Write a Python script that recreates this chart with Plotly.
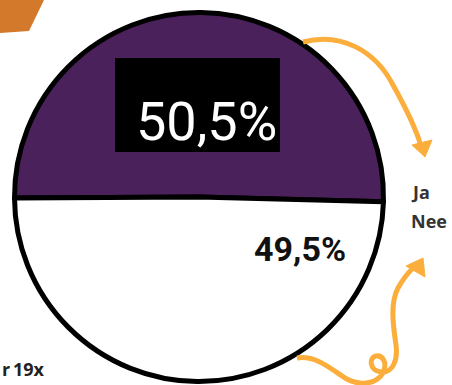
import plotly.graph_objects as go

# Survey answers
labels = ["Ja", "Nee"]
values = [50.5, 49.5]
colors = ["#4A215B", "#FFFFFF"]
note_word = "r"
note_count = "19x"

W, H = 452, 385


def px(x, y):
    """Pixel position -> paper coordinates (margins are zero)."""
    return x / W, 1 - y / H


def path(cmds):
    out = []
    for c in cmds:
        if isinstance(c, str):
            out.append(c)
        else:
            x, y = px(*c)
            out.append(f"{x:.5f},{y:.5f}")
    return " ".join(out)


def pct(v):
    return f"{v:.1f}%".replace(".", ",")


def label(xp, yp, text, font, xanchor="center", yanchor="middle"):
    x, y = px(xp, yp)
    return dict(x=x, y=y, xref="paper", yref="paper", showarrow=False,
                xanchor=xanchor, yanchor=yanchor, text=text, font=font)


# Pie placement: centre and radius in pixels
cx, cy, r = 199, 197, 184.5
x0, _ = px(cx - r, 0)
x1, _ = px(cx + r, 0)
_, y1 = px(0, cy - r)
_, y0 = px(0, cy + r)

fig = go.Figure(
    go.Pie(
        labels=labels,
        values=values,
        sort=False,
        direction="clockwise",
        rotation=-90.3,
        marker=dict(colors=colors, line=dict(color="#000000", width=5)),
        textinfo="none",
        hoverinfo="label+percent",
        showlegend=False,
        domain=dict(x=[x0, x1], y=[y0, y1]),
    )
)

orange = "#FBAE3C"
shapes = []

# Corner tab, top left
shapes.append(dict(
    type="path", xref="paper", yref="paper", layer="above",
    path=path(["M", (0, 0), "L", (44, 0), "L", (29, 31), "L", (0, 33), "Z"]),
    fillcolor="#D3792B", line=dict(width=0),
))

# Black box behind the "Ja" share
bx0, by1 = px(115, 58)
bx1, by0 = px(280, 152)
shapes.append(dict(
    type="rect", xref="paper", yref="paper", layer="above",
    x0=bx0, x1=bx1, y0=by0, y1=by1,
    fillcolor="#000000", line=dict(width=0),
))

# Upper arrow towards the legend
shapes.append(dict(
    type="path", xref="paper", yref="paper", layer="above",
    path=path(["M", (303, 42), "C", (340, 32), (375, 50), (393, 85),
               "C", (408, 112), (417, 132), (421, 146)]),
    line=dict(color=orange, width=5),
))
shapes.append(dict(
    type="path", xref="paper", yref="paper", layer="above",
    path=path(["M", (412, 145), "L", (432, 140), "L", (425, 157), "Z"]),
    fillcolor=orange, line=dict(color=orange, width=1),
))

# Lower curly arrow
shapes.append(dict(
    type="path", xref="paper", yref="paper", layer="above",
    path=path(["M", (297, 358), "C", (315, 355), (330, 368), (345, 378),
               "C", (358, 386), (376, 385), (383, 373),
               "C", (388, 362), (382, 355), (376, 356),
               "C", (369, 357), (369, 371), (381, 372),
               "C", (393, 373), (398, 360), (396, 345),
               "C", (393, 325), (390, 303), (398, 288),
               "C", (403, 279), (407, 274), (412, 269)]),
    line=dict(color=orange, width=5),
))
shapes.append(dict(
    type="path", xref="paper", yref="paper", layer="above",
    path=path(["M", (406, 266), "L", (423, 258), "L", (425, 277), "Z"]),
    fillcolor=orange, line=dict(color=orange, width=1),
))

annotations = [
    # Slice shares
    label(206, 121, pct(values[0]),
          dict(family="Roboto", size=54, color="#FFFFFF")),
    label(300, 249, pct(values[1]),
          dict(family="Roboto", size=34, color="#111111", weight="bold")),
    # Legend entries as plain text
    label(409, 192, f"<b>{labels[0]}</b>",
          dict(family="Open Sans", size=18, color="#333333"), xanchor="left"),
    label(409, 221, f"<b>{labels[1]}</b>",
          dict(family="Open Sans", size=18, color="#333333"), xanchor="left"),
    # Footnote in the lower left corner
    label(0, 369, f"<b>{note_word}</b>",
          dict(family="Open Sans", size=18, color="#222222"), xanchor="left"),
    label(11, 369, f"<b>{note_count}</b>",
          dict(family="Open Sans", size=18, color="#222222"), xanchor="left"),
]

fig.update_layout(
    width=W, height=H,
    margin=dict(l=0, r=0, t=0, b=0),
    paper_bgcolor="#FFFFFF",
    plot_bgcolor="#FFFFFF",
    shapes=shapes,
    annotations=annotations,
)

fig.write_html("out.html")
